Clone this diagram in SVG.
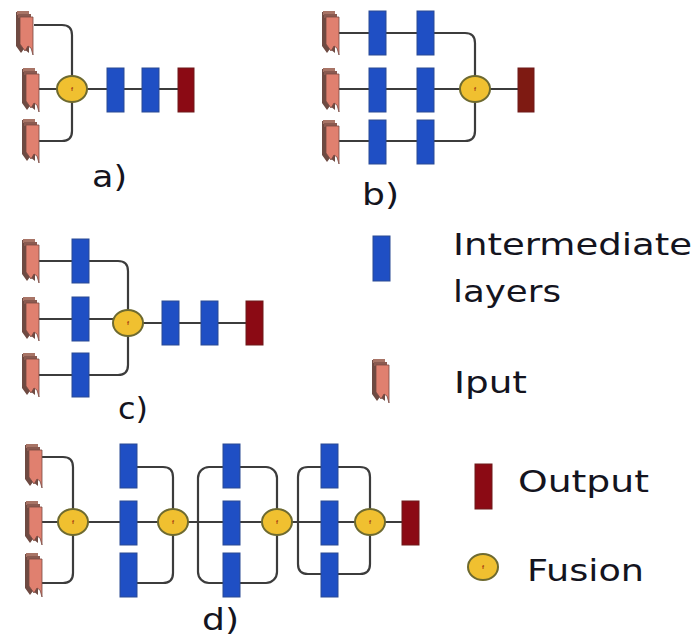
<svg xmlns="http://www.w3.org/2000/svg" width="697" height="639" viewBox="0 0 697 639">
<style>
.c{fill:none;stroke:#3c3c3c;stroke-width:2.2}
.b{fill:#1f4fc4;stroke:#2a4a94;stroke-width:1}
.o{fill:#8b0a14;stroke:#6e1a1a;stroke-width:1}
.fc{fill:#f0c030;stroke:#6e6a30;stroke-width:2}
.ft{font:bold 6px "Liberation Sans",sans-serif;fill:#a03010;text-anchor:middle}
.t{font-family:"DejaVu Sans",sans-serif;font-size:31px;fill:#14141e}
</style>
<defs>
<symbol id="inp" width="17" height="44" viewBox="0 0 17 44" overflow="visible">
<path d="M0 1 L0 35 L5 42 L8 38 L13 42 L13 1 Z" fill="#6e4a42"/>
<path d="M1 0 H13 V4 H1 Z" fill="#a87466"/>
<path d="M2 3 H15 V7 H2 Z" fill="#8a5a50"/>
<path d="M4 6 H17 V44 L15 37 L12 35 L9 40 L4 33 Z" fill="#e0806f" stroke="#7a4a42" stroke-width=".8"/>
</symbol>
<symbol id="fus" width="32" height="28" viewBox="0 0 32 28" overflow="visible">
<ellipse cx="16" cy="14" rx="15" ry="13" class="fc"/>
<text x="16" y="16" class="ft">f</text>
</symbol>
</defs>
<rect width="697" height="639" fill="#fff"/>
<g id="connectors">
<path class="c" d="M34 25H62Q72 25 72 35V131Q72 141 62 141H38M38 89H178"/>
<path class="c" d="M339 33H465Q475 33 475 43V131Q475 141 465 141H339M339 89H518"/>
<path class="c" d="M39 261H118Q128 261 128 271V365Q128 375 118 375H39M39 319H128M128 323H246"/>
<path class="c" d="M41 457H63Q73 457 73 467V573Q73 583 63 583H41M41 522H402"/>
<path class="c" d="M137 467H163Q173 467 173 477V573Q173 583 163 583H137"/>
<rect class="c" x="198" y="467" width="79" height="116" rx="11"/>
<path class="c" d="M298 522V477Q298 467 308 467H360Q370 467 370 477V564Q370 574 360 574H308Q298 574 298 564Z"/>
</g>
<g id="a1"><use href="#inp" x="16" y="11"/></g>
<g id="a2"><use href="#inp" x="22" y="68"/></g>
<g id="a3"><use href="#inp" x="22" y="119"/></g>
<g id="a-f"><use href="#fus" x="56" y="75"/></g>
<g id="a-l1"><rect class="b" x="107" y="68" width="17" height="44"/></g>
<g id="a-l2"><rect class="b" x="142" y="68" width="17" height="44"/></g>
<g id="a-o"><rect class="o" x="178" y="68" width="16" height="44"/></g>
<g id="b1"><use href="#inp" x="322" y="11"/></g>
<g id="b2"><use href="#inp" x="322" y="68"/></g>
<g id="b3"><use href="#inp" x="322" y="120"/></g>
<g id="b-l1"><rect class="b" x="369" y="11" width="17" height="44"/><rect class="b" x="417" y="11" width="17" height="44"/></g>
<g id="b-l2"><rect class="b" x="369" y="68" width="17" height="44"/><rect class="b" x="417" y="68" width="17" height="44"/></g>
<g id="b-l3"><rect class="b" x="369" y="120" width="17" height="44"/><rect class="b" x="417" y="120" width="17" height="44"/></g>
<g id="b-f"><use href="#fus" x="459" y="75"/></g>
<g id="b-o"><rect class="o" style="fill:#7e1a12" x="518" y="68" width="16" height="44"/></g>
<g id="c1"><use href="#inp" x="22" y="239"/></g>
<g id="c2"><use href="#inp" x="22" y="297"/></g>
<g id="c3"><use href="#inp" x="22" y="353"/></g>
<g id="c-l1"><rect class="b" x="72" y="239" width="17" height="44"/></g>
<g id="c-l2"><rect class="b" x="72" y="297" width="17" height="44"/></g>
<g id="c-l3"><rect class="b" x="72" y="353" width="17" height="44"/></g>
<g id="c-f"><use href="#fus" x="112" y="309"/></g>
<g id="c-l4"><rect class="b" x="162" y="301" width="17" height="44"/></g>
<g id="c-l5"><rect class="b" x="201" y="301" width="17" height="44"/></g>
<g id="c-o"><rect class="o" x="246" y="301" width="17" height="44"/></g>
<g id="d1"><use href="#inp" x="25" y="444"/></g>
<g id="d2"><use href="#inp" x="25" y="501"/></g>
<g id="d3"><use href="#inp" x="25" y="553"/></g>
<g id="d-f1"><use href="#fus" x="57" y="508"/></g>
<g id="d-col1"><rect class="b" x="120" y="444" width="17" height="44"/><rect class="b" x="120" y="501" width="17" height="44"/><rect class="b" x="120" y="553" width="17" height="44"/></g>
<g id="d-f2"><use href="#fus" x="157" y="508"/></g>
<g id="d-col2"><rect class="b" x="223" y="444" width="17" height="44"/><rect class="b" x="223" y="501" width="17" height="44"/><rect class="b" x="223" y="553" width="17" height="44"/></g>
<g id="d-f3"><use href="#fus" x="261" y="508"/></g>
<g id="d-col3"><rect class="b" x="321" y="444" width="17" height="44"/><rect class="b" x="321" y="501" width="17" height="44"/><rect class="b" x="321" y="553" width="17" height="44"/></g>
<g id="d-f4"><use href="#fus" x="354" y="508"/></g>
<g id="d-o"><rect class="o" x="402" y="501" width="17" height="44"/></g>
<g id="legend-layer"><rect class="b" x="373" y="236" width="17" height="45"/><text class="t" x="453" y="255" textLength="239" lengthAdjust="spacingAndGlyphs">Intermediate</text><text class="t" x="453" y="302" textLength="108" lengthAdjust="spacingAndGlyphs">layers</text></g>
<g id="legend-input"><use href="#inp" x="372" y="359"/><text class="t" x="454" y="393" textLength="73" lengthAdjust="spacingAndGlyphs">Iput</text></g>
<g id="legend-output"><rect class="o" x="475" y="464" width="17" height="45"/><text class="t" x="518" y="492" textLength="131" lengthAdjust="spacingAndGlyphs">Output</text></g>
<g id="legend-fusion"><use href="#fus" x="467" y="553"/><text class="t" x="527" y="581" textLength="117" lengthAdjust="spacingAndGlyphs">Fusion</text></g>
<g id="labels">
<text class="t" x="92" y="187" textLength="35" lengthAdjust="spacingAndGlyphs">a)</text>
<text class="t" x="362" y="205" textLength="37" lengthAdjust="spacingAndGlyphs">b)</text>
<text class="t" x="118" y="419" textLength="30" lengthAdjust="spacingAndGlyphs">c)</text>
<text class="t" x="202" y="630" textLength="37" lengthAdjust="spacingAndGlyphs">d)</text>
</g>
</svg>
